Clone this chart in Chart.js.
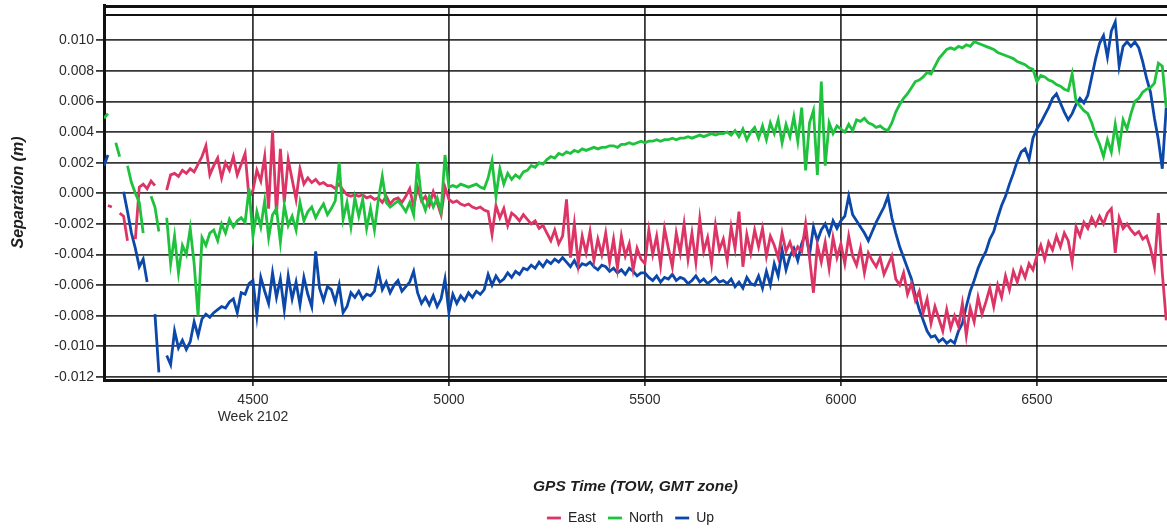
<!DOCTYPE html>
<html>
<head>
<meta charset="utf-8">
<title>Separation</title>
<script src="https://cdn.jsdelivr.net/npm/chart.js@4.4.1/dist/chart.umd.min.js"></script>
<style>
  html, body { margin: 0; padding: 0; background: #fff; }
  #wrap { width: 1167px; height: 531px; }
</style>
</head>
<body>
<div id="wrap"><canvas id="sepChart" width="1167" height="531"></canvas></div>
<script>
// GPS time of week (s), one sample every 10 s
const towSeconds = [
  4120, 4130, 4140, 4150, 4160, 4170, 4180, 4190,
  4200, 4210, 4220, 4230, 4240, 4250, 4260, 4270, 4280, 4290,
  4300, 4310, 4320, 4330, 4340, 4350, 4360, 4370, 4380, 4390,
  4400, 4410, 4420, 4430, 4440, 4450, 4460, 4470, 4480, 4490,
  4500, 4510, 4520, 4530, 4540, 4550, 4560, 4570, 4580, 4590,
  4600, 4610, 4620, 4630, 4640, 4650, 4660, 4670, 4680, 4690,
  4700, 4710, 4720, 4730, 4740, 4750, 4760, 4770, 4780, 4790,
  4800, 4810, 4820, 4830, 4840, 4850, 4860, 4870, 4880, 4890,
  4900, 4910, 4920, 4930, 4940, 4950, 4960, 4970, 4980, 4990,
  5000, 5010, 5020, 5030, 5040, 5050, 5060, 5070, 5080, 5090,
  5100, 5110, 5120, 5130, 5140, 5150, 5160, 5170, 5180, 5190,
  5200, 5210, 5220, 5230, 5240, 5250, 5260, 5270, 5280, 5290,
  5300, 5310, 5320, 5330, 5340, 5350, 5360, 5370, 5380, 5390,
  5400, 5410, 5420, 5430, 5440, 5450, 5460, 5470, 5480, 5490,
  5500, 5510, 5520, 5530, 5540, 5550, 5560, 5570, 5580, 5590,
  5600, 5610, 5620, 5630, 5640, 5650, 5660, 5670, 5680, 5690,
  5700, 5710, 5720, 5730, 5740, 5750, 5760, 5770, 5780, 5790,
  5800, 5810, 5820, 5830, 5840, 5850, 5860, 5870, 5880, 5890,
  5900, 5910, 5920, 5930, 5940, 5950, 5960, 5970, 5980, 5990,
  6000, 6010, 6020, 6030, 6040, 6050, 6060, 6070, 6080, 6090,
  6100, 6110, 6120, 6130, 6140, 6150, 6160, 6170, 6180, 6190,
  6200, 6210, 6220, 6230, 6240, 6250, 6260, 6270, 6280, 6290,
  6300, 6310, 6320, 6330, 6340, 6350, 6360, 6370, 6380, 6390,
  6400, 6410, 6420, 6430, 6440, 6450, 6460, 6470, 6480, 6490,
  6500, 6510, 6520, 6530, 6540, 6550, 6560, 6570, 6580, 6590,
  6600, 6610, 6620, 6630, 6640, 6650, 6660, 6670, 6680, 6690,
  6700, 6710, 6720, 6730, 6740, 6750, 6760, 6770, 6780, 6790,
  6800, 6810, 6820, 6830
];

// separations in mm (converted to m when plotted)
const eastMm = [
  null, -0.8, -0.9, null, -1.3, -1.5, -3.1, null,
  -3.0, 0.4, 0.6, 0.3, 0.8, 0.5, null, null, 0.2, 1.2,
  1.3, 1.1, 1.5, 1.3, 1.6, 1.4, 1.9, 2.4, 3.1, 1.2,
  1.8, 2.3, 1.0, 2.0, 1.5, 2.4, 1.2, 1.9, 2.6, -0.3,
  0.2, 1.5, 0.8, 2.4, -1.0, 4.1, -1.4, 2.9, -0.6, 2.2,
  0.9, -0.4, 1.6, 0.6, 1.0, 0.7, 0.9, 0.6, 0.7, 0.5,
  0.5, 0.3, 0.6, 0.2, -0.1, -0.2, -0.1, -0.2, -0.1, -0.3,
  -0.2, -0.4, -0.3, -0.6, -0.2, -0.7, -0.4, -0.3, -0.6, -0.2,
  0.3, -0.9, 0.4, -0.5, -0.2, -0.8, 0.1, -0.6, -1.4, 0.4,
  -0.4, -0.6, -0.5, -0.7, -0.8, -0.7, -0.9, -1.0, -0.9, -1.1,
  -1.2, -2.7, -0.8, -1.6, -1.0, -2.1, -1.3, -1.5, -1.8, -1.4,
  -1.7, -2.0, -1.8, -2.3, -2.1, -2.6, -3.1, -2.4, -3.3, -2.8,
  -0.4, -4.2, -2.0, -4.6, -2.8, -3.9, -2.5, -4.4, -3.0, -4.0,
  -2.6, -4.5, -3.0, -4.9, -2.8, -4.1, -3.3, -5.0, -3.6, -4.3,
  -4.6, -2.4, -4.0, -2.8, -4.7, -2.3, -3.6, -4.8, -2.6, -3.9,
  -2.0, -4.3, -2.6, -4.5, -1.7, -3.8, -2.9, -4.6, -2.1, -3.7,
  -3.0, -4.4, -2.2, -3.6, -1.2, -4.8, -2.7, -3.9, -2.4, -3.5,
  -2.3, -4.1, -2.8, -3.4, -4.2, -2.6, -3.8, -3.2, -4.0, -3.5,
  -3.8, -2.0, -4.2, -6.5, -3.4, -4.5, -3.2, -4.9, -2.9, -4.2,
  -3.3, -4.6, -2.8, -4.1, -4.7, -3.6, -5.2, -3.9, -4.4, -4.8,
  -4.2, -5.3, -4.7, -4.1, -5.6, -6.0, -5.2, -6.6, -5.9, -7.0,
  -6.4, -7.8, -6.9, -8.5, -7.4, -8.2, -9.0, -7.6, -8.8, -8.0,
  -8.7, -7.2, -9.3, -7.5, -8.4, -6.8, -7.9, -7.1, -6.2, -7.4,
  -6.0, -6.8, -5.4, -6.3, -5.1, -5.8, -4.9, -5.5, -4.6, -5.0,
  -4.1, -3.4, -4.3, -3.2, -3.7, -2.8, -3.5, -2.6, -3.1, -4.5,
  -2.2, -2.8, -1.9, -2.3, -1.6, -2.1, -1.5, -2.0, -1.3, -1.0,
  -3.9, -1.6, -2.3, -2.0, -2.4, -2.7, -2.5, -3.0, -2.8, -3.6,
  -4.8, -1.3, -5.2, -8.3
];

const northMm = [
  4.9, 5.2, null, 3.3, 2.4, null, 1.8, 0.7,
  0.0, -0.6, -2.6, null, -0.2, -0.9, -2.5, null, -1.6, -4.6,
  -2.8, -5.2, -3.4, -4.0, -2.3, -4.6, -8.0, -2.9, -3.4, -2.6,
  -2.4, -3.1, -2.0, -2.6, -1.7, -2.2, -1.8, -1.6, -1.9, 0.3,
  -2.8, -1.2, -2.2, -0.5, -2.9, -1.4, -1.0, -3.2, -0.8, -2.1,
  -1.5, -2.4, -0.6, -1.8, -1.2, -0.9, -1.6, -1.1, -0.7, -1.4,
  -1.0, -0.5, 2.0, -1.7, -0.6, -2.2, -0.3, -1.5, -0.4, -2.3,
  -1.0, -2.4, -0.4, 1.1, -0.6, -0.9, -0.7, -0.5, -0.8, -1.2,
  -0.6, -1.4, 2.0, -0.4, -1.1, -0.2, -0.9, -0.3, -1.2, 2.5,
  0.4, 0.5, 0.4, 0.6, 0.5, 0.4, 0.5, 0.6, 0.4, 0.3,
  1.0, 2.1, -0.2, 1.6, 0.6, 1.3, 0.9, 1.2, 1.0, 1.4,
  1.5, 1.8, 1.7, 2.0, 1.9, 2.2, 2.4, 2.3, 2.6, 2.5,
  2.7, 2.6, 2.8, 2.7, 2.9, 2.8, 2.9, 3.0, 2.9, 3.0,
  3.0, 3.1, 3.1, 3.0, 3.2, 3.2, 3.3, 3.2, 3.3, 3.4,
  3.3, 3.4, 3.4, 3.5, 3.4, 3.5, 3.5, 3.6, 3.5, 3.6,
  3.6, 3.7, 3.6, 3.7, 3.8, 3.7, 3.8, 3.9, 3.8, 3.9,
  3.9, 4.0, 3.8, 4.1, 3.7, 4.2, 3.5, 4.0, 4.3, 3.6,
  4.4, 3.5, 4.6, 3.9, 4.8, 3.3, 4.5, 3.7, 5.0, 3.4,
  5.6, 1.5, 4.6, 5.4, 1.2, 7.3, 1.8, 4.6, 3.9, 4.4,
  4.2, 4.0, 4.5, 4.1, 4.8, 4.7, 4.9, 4.6, 4.5, 4.3,
  4.4, 4.2, 4.1, 4.6, 5.3, 5.8, 6.2, 6.5, 6.9, 7.3,
  7.4, 7.6, 7.9, 7.8, 8.3, 8.8, 9.1, 9.4, 9.5, 9.4,
  9.6, 9.5, 9.7, 9.6, 9.9, 9.8, 9.7, 9.6, 9.5, 9.4,
  9.2, 9.1, 9.0, 8.9, 8.8, 8.6, 8.5, 8.4, 8.2, 8.1,
  7.3, 7.7, 7.6, 7.4, 7.3, 7.1, 7.0, 6.8, 6.7, 7.8,
  6.0, 5.7, 5.4, 5.2, 4.6, 3.8, 3.2, 2.4, 3.5, 2.7,
  4.5, 3.0, 4.8, 4.2, 5.2, 6.0, 6.2, 6.6, 6.8, 6.9,
  7.2, 8.5, 8.3, 5.6
];

const upMm = [
  1.8, 2.5, null, null, null, 0.1, -1.2, -2.6,
  -3.6, -4.8, -4.3, -5.8, null, -7.9, -11.7, null, -10.6, -11.2,
  -9.0, -10.1, -9.6, -10.2, -9.7, -8.4, -9.3, -8.2, -7.9, -8.1,
  -7.8, -7.6, -7.4, -7.5, -7.1, -6.9, -7.8, -6.5, -6.6, -5.9,
  -5.7, -8.0, -5.5, -6.4, -7.2, -5.2, -6.8, -5.6, -7.6, -5.4,
  -6.9, -5.8, -7.3, -5.5, -6.6, -7.4, -3.8, -6.2, -7.0, -6.1,
  -6.3, -7.1, -6.0, -7.8, -7.4, -6.5, -6.8, -6.4, -6.9, -6.6,
  -6.7, -6.4, -5.1, -6.3, -5.8, -6.5, -6.0, -5.7, -6.4, -6.1,
  -5.8, -5.1, -6.5, -7.2, -6.8, -7.3, -6.7, -7.4, -6.9, -5.6,
  -7.8, -6.6, -7.2, -6.7, -7.0, -6.5, -6.8, -6.4, -6.6, -6.3,
  -5.3, -6.0, -5.4, -5.8, -5.6, -5.2, -5.5, -5.1, -5.3, -4.9,
  -5.0, -4.7, -4.9, -4.5, -4.8, -4.4, -4.6, -4.3, -4.5, -4.2,
  -4.5, -4.8, -4.4, -4.9, -4.6, -4.7, -4.5, -4.8, -5.0, -4.7,
  -4.8, -5.1, -4.9, -5.2, -5.0, -5.3, -4.9, -5.1, -5.4, -5.2,
  -5.2, -5.5, -5.7, -5.4, -5.8, -5.5, -5.6, -5.3, -5.7, -5.5,
  -5.6, -5.9, -5.7, -5.4, -5.8, -5.6, -5.9, -5.7, -5.5, -5.8,
  -5.7, -5.9, -5.6, -6.1, -5.8, -6.2, -5.5, -5.9, -6.0, -5.4,
  -6.2, -5.1, -6.0, -4.6, -5.4, -3.7, -5.0, -4.1, -3.6, -4.4,
  -3.3, -2.6, -4.0, -2.2, -3.1, -2.4, -2.0, -2.7, -1.8, -2.3,
  -1.8, -1.5, -0.2, -1.4, -1.8, -2.2, -2.6, -3.1, -2.5, -1.9,
  -1.4, -0.9, -0.2, -1.6, -2.6, -3.5, -4.2, -4.9, -5.6, -6.7,
  -7.6, -8.3, -9.0, -9.4, -9.3, -9.7, -9.5, -9.8, -9.6, -9.8,
  -9.0, -8.5, -7.4, -6.4, -5.7, -4.9, -4.3, -3.8, -3.0, -2.5,
  -1.6, -0.8, -0.2, 0.6, 1.3, 2.1, 2.7, 2.9, 2.2, 3.6,
  4.2, 4.6, 5.1, 5.6, 6.2, 6.5, 5.9, 5.3, 4.8, 5.2,
  5.8, 6.2, 5.9, 6.4, 7.6, 8.8, 9.8, 10.3, 8.9, 10.6,
  11.2, 8.3, 9.6, 9.9, 9.6, 9.9, 9.5, 8.6, 7.5, 6.6,
  4.9, 3.5, 1.6, 5.6
];

const seriesNames = ['East', 'North', 'Up'];
const seriesColors = ['#dc3465', '#1fc23d', '#0b48aa'];

const xTickValues = [4500, 5000, 5500, 6000, 6500];
const xTickLabels = [['4500', 'Week 2102'], '5000', '5500', '6000', '6500'];
const yTickValues = [-0.012, -0.010, -0.008, -0.006, -0.004, -0.002, 0, 0.002, 0.004, 0.006, 0.008, 0.010];
const topRuleValue = 0.01164;
const legendOffsetX = 47;

const toPoints = mm => towSeconds.map((t, i) => ({ x: t, y: mm[i] === null ? null : mm[i] / 1000 }));

// double frame along the top edge
const frameLines = {
  id: 'frameLines',
  beforeDatasetsDraw(chart) {
    const { ctx, chartArea } = chart;
    const yy = Math.round(chart.scales.y.getPixelForValue(topRuleValue));
    ctx.save();
    ctx.strokeStyle = '#111';
    ctx.lineWidth = 3;
    ctx.beginPath();
    ctx.moveTo(chartArea.left, chartArea.top + 1.5);
    ctx.lineTo(chartArea.right, chartArea.top + 1.5);
    ctx.stroke();
    ctx.lineWidth = 2;
    ctx.beginPath();
    ctx.moveTo(chartArea.left, yy);
    ctx.lineTo(chartArea.right, yy);
    ctx.stroke();
    ctx.restore();
  }
};

// centre the legend under the plot area rather than the whole canvas
const legendShift = {
  id: 'legendShift',
  afterLayout(chart) {
    chart.legend.left += legendOffsetX;
    chart.legend.right += legendOffsetX;
  }
};

Chart.defaults.font.family = '"Liberation Sans", Arial, sans-serif';
Chart.defaults.font.size = 14;
Chart.defaults.color = '#2b2b2b';

const lineSet = (i, mm, order) => ({
  label: seriesNames[i],
  data: toPoints(mm),
  borderColor: seriesColors[i],
  backgroundColor: seriesColors[i],
  borderWidth: 2.8,
  pointRadius: 0,
  tension: 0,
  spanGaps: false,
  order: order
});

new Chart(document.getElementById('sepChart'), {
  type: 'line',
  data: {
    datasets: [
      lineSet(0, eastMm, 2),
      lineSet(1, northMm, 1),
      lineSet(2, upMm, 3)
    ]
  },
  options: {
    responsive: false,
    animation: false,
    devicePixelRatio: 1,
    layout: { padding: { top: 5, left: 0, right: 0, bottom: -4 } },
    plugins: {
      tooltip: { enabled: false },
      legend: {
        position: 'bottom',
        labels: {
          usePointStyle: true,
          pointStyle: 'line',
          pointStyleWidth: 14,
          padding: 12,
          color: '#222',
          font: { size: 14 },
          sort: (a, b) => a.datasetIndex - b.datasetIndex
        }
      }
    },
    scales: {
      x: {
        type: 'linear',
        min: 4120,
        max: 6832,
        afterBuildTicks: s => { s.ticks = xTickValues.map(v => ({ value: v })); },
        afterFit: s => { s.height = 119; s.paddingLeft = 0; s.paddingRight = 0; },
        ticks: {
          padding: 6,
          autoSkip: false,
          maxRotation: 0,
          callback: (v, i) => xTickLabels[i]
        },
        grid: { color: 'rgba(20,20,20,0.85)', lineWidth: 1.8, tickLength: 6 },
        border: { color: '#111', width: 3 },
        title: {
          display: true,
          text: 'GPS Time (TOW, GMT zone)',
          color: '#1e1e1e',
          font: { size: 15.5, weight: 'bold', style: 'italic' },
          padding: { top: 0, bottom: 3 }
        }
      },
      y: {
        min: -0.0122,
        max: 0.0123,
        afterBuildTicks: s => { s.ticks = yTickValues.map(v => ({ value: v })); },
        afterFit: s => { s.width = 104; s.paddingTop = 0; s.paddingBottom = 0; },
        ticks: {
          padding: 2,
          autoSkip: false,
          callback: v => v.toFixed(3)
        },
        grid: { color: 'rgba(20,20,20,0.85)', lineWidth: 1.8, tickLength: 8 },
        border: { color: '#111', width: 3 },
        title: {
          display: true,
          text: 'Separation (m)',
          color: '#1e1e1e',
          font: { size: 16, weight: 'bold', style: 'italic' },
          padding: { top: 9, bottom: 0 }
        }
      }
    }
  },
  plugins: [frameLines, legendShift]
});
</script>
</body>
</html>
